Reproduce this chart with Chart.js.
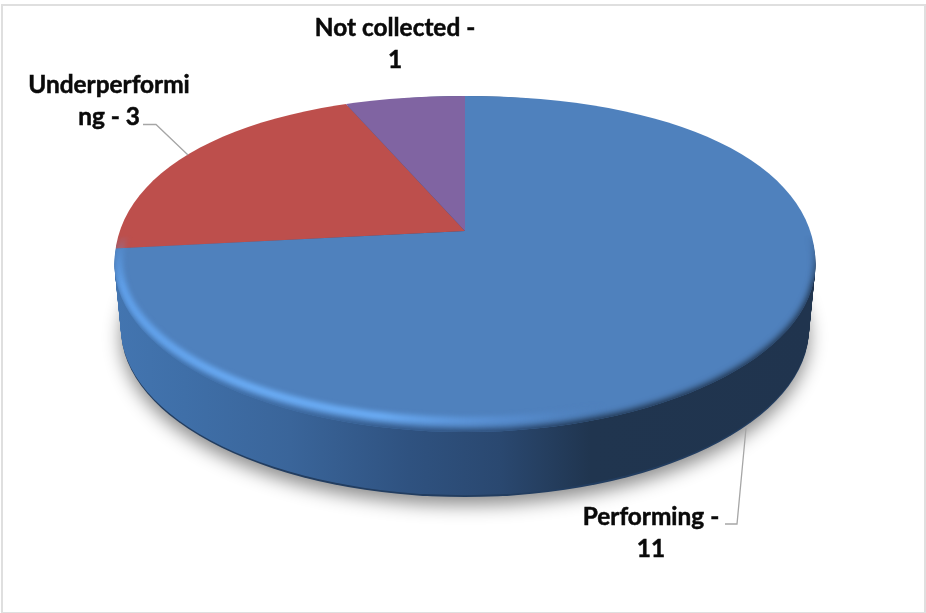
<!DOCTYPE html>
<html lang="en">
<head>
  <meta charset="UTF-8">
  <title>Performance status</title>
  <script src="https://cdn.jsdelivr.net/npm/chart.js"></script>
  <style>
    body{ margin: 0; background: #fff; }
    #wrap{ position: relative; width: 926px; height: 613px; overflow: hidden; }
    #frame{ position: absolute; left: 1px; top: 4px; width: 921px; height: 606px; border: 2px solid #dfdfdf; }
    #myChart{ position: absolute; left: 0; top: 0; }
  </style>
</head>
<body>
  <div id="wrap">
    <div id="frame"></div>
    <canvas id="myChart" width="926" height="613"></canvas>
  </div>
  <script>
    const categories = ['Performing', 'Underperforming', 'Not collected'];
    const values = [11, 3, 1];
    const colors = ['#4f81bd', '#bd4f4c', '#8064a2'];

    // label text wraps at a fixed box width, so one word gets cut
    const labelLines = [
      ['Performing -', '11'],
      ['Underperformi', 'ng - 3'],
      ['Not collected -', '1']
    ];
    const labelCenters = [[651, 517], [109, 85], [395, 28]];
    const leaders = [
      [[725, 524], [737, 524], [746, 428]],
      [[143, 124.5], [156, 124.5], [188, 155]]
    ];

    // top face of the tilted disc
    const top3d = { cx: 465, cy: 264, rx: 350.5, ry: 168 };
    const base3d = { cx: 465, cy: 329, rx: 344, ry: 168 };
    const bevel3d = { cx: 465, cy: 263, rx: 346, ry: 158 };
    const inner3d = { cx: 465, cy: 263, rx: 349, ry: 166 };
    // where the slices meet, and how much the circle gets flattened
    const apex = { x: 465, y: 231, squash: 0.475 };

    function ellipsePath(ctx, e){
      ctx.beginPath();
      ctx.ellipse(e.cx, e.cy, e.rx, e.ry, 0, 0, Math.PI * 2);
    }

    // the far half of the face is a bit fuller than a true ellipse
    function facePath(ctx){
      const e = top3d, k = 0.6, l = 0.5523;
      ctx.beginPath();
      ctx.moveTo(e.cx - e.rx, e.cy);
      ctx.bezierCurveTo(e.cx - e.rx, e.cy - e.ry * k, e.cx - e.rx * k, e.cy - e.ry, e.cx, e.cy - e.ry);
      ctx.bezierCurveTo(e.cx + e.rx * k, e.cy - e.ry, e.cx + e.rx, e.cy - e.ry * k, e.cx + e.rx, e.cy);
      ctx.bezierCurveTo(e.cx + e.rx, e.cy + e.ry * l, e.cx + e.rx * l, e.cy + e.ry, e.cx, e.cy + e.ry);
      ctx.bezierCurveTo(e.cx - e.rx * l, e.cy + e.ry, e.cx - e.rx, e.cy + e.ry * l, e.cx - e.rx, e.cy);
      ctx.closePath();
    }

    function wallGradient(ctx){
      const g = ctx.createLinearGradient(top3d.cx - top3d.rx, 0, top3d.cx + top3d.rx, 0);
      g.addColorStop(0, '#4375b0');
      g.addColorStop(0.1, '#3f6fa8');
      g.addColorStop(0.25, '#3a659a');
      g.addColorStop(0.42, '#2f5280');
      g.addColorStop(0.55, '#2a4870');
      g.addColorStop(0.68, '#20354f');
      g.addColorStop(1, '#20344e');
      return g;
    }

    const disc3d = {
      id: 'disc3d',
      beforeDatasetsDraw(chart){
        const ctx = chart.ctx;
        // floor shadow
        ctx.save();
        ctx.shadowColor = 'rgba(0,0,0,0.45)';
        ctx.shadowBlur = 18;
        ctx.shadowOffsetY = 8;
        ctx.fillStyle = '#223d60';
        ellipsePath(ctx, base3d);
        ctx.fill();
        ctx.restore();

        // side wall, swept from the base up to the top face
        ctx.save();
        ctx.fillStyle = wallGradient(ctx);
        for(let i = 2; i <= 70; i++){
          const t = i / 70;
          ellipsePath(ctx, {
            cx: top3d.cx,
            cy: base3d.cy + (top3d.cy - base3d.cy) * t,
            rx: base3d.rx + (top3d.rx - base3d.rx) * t,
            ry: base3d.ry + (top3d.ry - base3d.ry) * t
          });
          ctx.fill();
        }
        ctx.restore();
      },
      beforeDatasetDraw(chart){
        const ctx = chart.ctx;
        const arc = chart.getDatasetMeta(0).data[0];
        ctx.save();
        facePath(ctx);
        ctx.clip();
        ctx.translate(apex.x, apex.y);
        ctx.scale(1, apex.squash);
        ctx.translate(-arc.x, -arc.y);
      },
      afterDatasetDraw(chart){
        const ctx = chart.ctx;
        ctx.restore();

        // bevel goes on a spare canvas so it can fade out towards the far side
        const off = document.createElement('canvas');
        off.width = chart.width;
        off.height = chart.height;
        const o = off.getContext('2d');

        // soft edge where the face rolls over into the wall
        o.fillStyle = wallGradient(o);
        o.fillRect(0, 0, off.width, off.height);
        o.globalCompositeOperation = 'destination-out';
        o.filter = 'blur(3px)';
        ellipsePath(o, inner3d);
        o.fill();
        o.filter = 'none';
        o.globalCompositeOperation = 'source-over';

        // highlight on the near left part of the rim
        const rim = o.createLinearGradient(top3d.cx - top3d.rx, 0, top3d.cx + top3d.rx, 0);
        rim.addColorStop(0, 'rgba(96,160,234,1)');
        rim.addColorStop(0.2, 'rgba(106,172,245,1)');
        rim.addColorStop(0.38, 'rgba(106,172,245,1)');
        rim.addColorStop(0.58, 'rgba(90,145,215,0.55)');
        rim.addColorStop(0.7, 'rgba(80,130,190,0)');
        o.filter = 'blur(2.5px)';
        o.strokeStyle = rim;
        o.lineWidth = 8;
        ellipsePath(o, bevel3d);
        o.stroke();
        o.filter = 'none';

        const fade = o.createLinearGradient(0, 235, 0, 285);
        fade.addColorStop(0, 'rgba(0,0,0,0)');
        fade.addColorStop(1, 'rgba(0,0,0,1)');
        o.globalCompositeOperation = 'destination-in';
        o.fillStyle = fade;
        o.fillRect(0, 0, off.width, off.height);

        ctx.save();
        facePath(ctx);
        ctx.clip();
        ctx.drawImage(off, 0, 0);
        ctx.restore();
      },
      afterDraw(chart){
        const ctx = chart.ctx;
        ctx.save();
        ctx.strokeStyle = '#a6a6a6';
        ctx.lineWidth = 1.3;
        leaders.forEach(function(line){
          ctx.beginPath();
          line.forEach(function(p, i){
            if(i == 0) ctx.moveTo(p[0], p[1]);
            else ctx.lineTo(p[0], p[1]);
          });
          ctx.stroke();
        });
        ctx.fillStyle = '#0a0a0a';
        ctx.strokeStyle = '#0a0a0a';
        ctx.lineWidth = 0.5;
        ctx.font = 'bold 24.4px Lato';
        ctx.textAlign = 'center';
        ctx.textBaseline = 'middle';
        labelLines.forEach(function(lines, i){
          lines.forEach(function(text, j){
            const y = labelCenters[i][1] + j * 32.5;
            ctx.fillText(text, labelCenters[i][0], y);
            ctx.strokeText(text, labelCenters[i][0], y);
          });
        });
        ctx.restore();
      }
    };

    new Chart(document.getElementById('myChart'), {
      type: 'pie',
      data: {
        labels: categories,
        datasets: [{
          data: values,
          backgroundColor: colors,
          borderWidth: 0,
          radius: 470,
          clip: false
        }]
      },
      options: {
        responsive: false,
        animation: false,
        plugins: {
          legend: { display: false },
          tooltip: { enabled: false }
        }
      },
      plugins: [disc3d]
    });
  </script>
</body>
</html>
